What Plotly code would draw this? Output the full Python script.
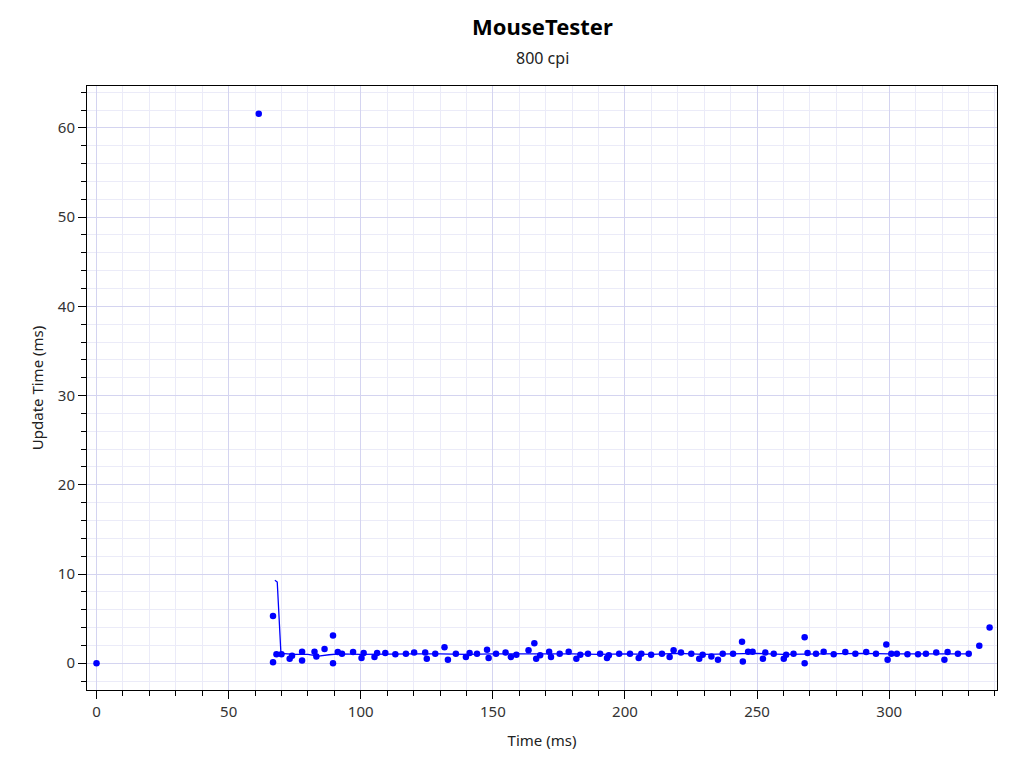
import plotly.graph_objects as go

# MouseTester update-time plot (800 cpi)

# raw samples: time (ms) vs. update time (ms)
point_time = [0, 61.4, 66.8, 66.8, 68.1, 70.0, 73.1, 74.0, 77.8, 77.8, 82.5, 83.2, 86.3, 89.5, 89.5,
              91.3, 92.9, 97.1, 100.3, 101.1, 105.2, 106.2, 109.3, 113.1, 117.1, 120.2, 124.4, 125.0,
              128.2, 131.7, 133.0, 136.0, 139.8, 141.2, 144.0, 147.8, 148.4, 151.2, 154.8, 156.8,
              158.9, 163.5, 165.7, 166.4, 167.9, 171.3, 172.0, 175.3, 178.7, 181.6, 183.1, 186.0,
              190.6, 193.2, 193.9, 197.8, 201.9, 205.2, 206.2, 209.9, 214.0, 216.9, 218.4, 221.2,
              225.1, 228.1, 229.4, 232.7, 235.2, 237.0, 240.9, 244.3, 244.6, 246.6, 248.3, 252.2,
              253.1, 256.3, 260.1, 261.0, 263.8, 268.0, 268.0, 269.1, 272.3, 275.2, 279.0, 283.4,
              287.2, 291.3, 295.0, 298.9, 299.4, 300.8, 302.9, 306.9, 310.9, 313.9, 317.8, 320.9,
              322.1, 326.0, 330.1, 334.1, 338.0]
point_update = [0, 61.6, 5.3, 0.1, 1.0, 1.0, 0.5, 0.85, 1.3, 0.3, 1.3, 0.75, 1.6, 3.1, 0.0,
                1.25, 1.05, 1.25, 0.6, 1.15, 0.7, 1.15, 1.15, 1.0, 1.05, 1.2, 1.2, 0.5,
                1.05, 1.8, 0.4, 1.05, 0.7, 1.15, 1.05, 1.5, 0.6, 1.05, 1.2, 0.7,
                0.95, 1.45, 2.25, 0.5, 0.9, 1.3, 0.7, 1.05, 1.3, 0.5, 0.95, 1.05,
                1.05, 0.6, 0.9, 1.05, 1.05, 0.6, 1.05, 0.95, 1.05, 0.7, 1.45, 1.2,
                1.05, 0.5, 0.95, 0.75, 0.4, 1.05, 1.05, 2.4, 0.2, 1.3, 1.3, 0.5,
                1.2, 1.05, 0.5, 0.95, 1.05, 2.9, 0.0, 1.15, 1.05, 1.3, 1.0, 1.25,
                1.05, 1.25, 1.05, 2.1, 0.4, 1.05, 1.05, 1.0, 1.0, 1.05, 1.2, 0.4,
                1.25, 1.05, 1.05, 1.95, 4.0]

# smoothed line as drawn
avg_time = [67.5, 68.4, 69.8, 75, 80, 84, 88, 92, 100, 110, 120, 130, 140, 150, 160, 170, 180,
            190, 200, 210, 220, 230, 240, 250, 260, 270, 280, 290, 300, 310, 320, 330.1]
avg_update = [9.3, 9.1, 1.1, 1.0, 1.0, 0.8, 0.95, 1.05, 1.0, 1.05, 1.05, 1.05, 1.0, 1.05, 1.05,
              1.1, 1.05, 1.0, 1.05, 1.0, 1.1, 1.0, 1.05, 1.1, 1.0, 1.05, 1.05, 1.1, 1.05, 1.05,
              1.05, 1.05]

FONT = "Noto Sans"
major_grid = "#d4d4f0"
minor_grid = "#ebebf8"

fig = go.Figure()
fig.add_trace(go.Scatter(x=avg_time, y=avg_update, mode="lines",
                         line=dict(color="#0000ff", width=1.3), hoverinfo="skip"))
fig.add_trace(go.Scatter(x=point_time, y=point_update, mode="markers",
                         marker=dict(color="#0000ff", size=6.5)))

axis_common = dict(showline=True, linecolor="black", linewidth=1, mirror=True,
                   ticks="outside", ticklen=8, tickcolor="black", zeroline=False,
                   gridcolor=major_grid, gridwidth=1,
                   tickfont=dict(family=FONT, size=15, color="#333333"))

fig.update_xaxes(range=[-3.6, 340.8], dtick=50, tick0=0,
                 minor=dict(dtick=10, ticks="outside", ticklen=5, tickcolor="black",
                            showgrid=True, gridcolor=minor_grid),
                 title=dict(text="Time (ms)", font=dict(family=FONT, size=15, color="#222222"),
                            standoff=15),
                 **axis_common)
fig.update_yaxes(range=[-3, 64.7], dtick=10, tick0=0,
                 minor=dict(dtick=2, ticks="outside", ticklen=5, tickcolor="black",
                            showgrid=True, gridcolor=minor_grid),
                 title=dict(text="Update Time (ms)", font=dict(family=FONT, size=15, color="#222222"),
                            standoff=10),
                 **axis_common)

fig.add_annotation(text="<b>MouseTester</b>", xref="paper", yref="paper", x=0.5, y=1.0,
                   yanchor="middle", yshift=60, showarrow=False,
                   font=dict(family=FONT, size=22, color="black"))
fig.add_annotation(text="800 cpi", xref="paper", yref="paper", x=0.5, y=1.0,
                   yanchor="middle", yshift=28, showarrow=False,
                   font=dict(family=FONT, size=16, color="#222222"))

# page puts the figure 8px in from the top-left corner, so the margins make up for it
fig.update_layout(width=1024, height=768, showlegend=False,
                  plot_bgcolor="white", paper_bgcolor="white",
                  margin=dict(l=79, r=35, t=78, b=86),
                  font=dict(family=FONT))

fig.write_html("out.html")
